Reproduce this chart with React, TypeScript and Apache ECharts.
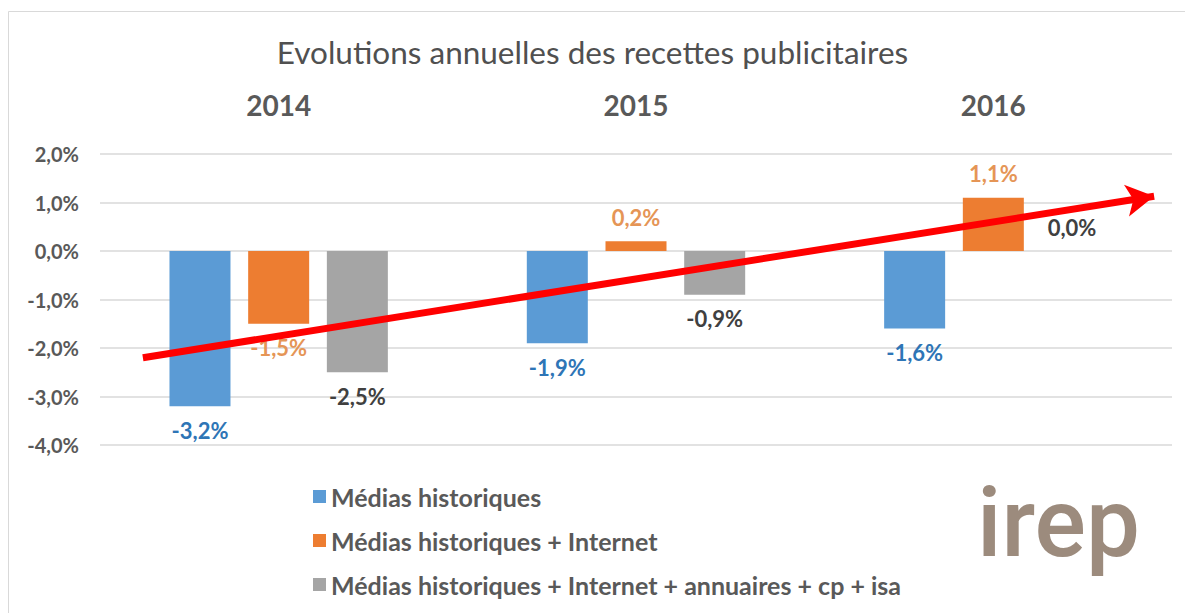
import React, { useEffect, useRef } from "react";
import * as echarts from "echarts";

const titleText = "Evolutions annuelles des recettes publicitaires";
const years = ["2014", "2015", "2016"];
const seriesNames = [
  "Médias historiques",
  "Médias historiques + Internet",
  "Médias historiques + Internet + annuaires + cp + isa",
];
const historiques = [-3.2, -1.9, -1.6];
const internet = [-1.5, 0.2, 1.1];
const complet = [-2.5, -0.9, 0.0];
const yTicks = { min: -4, max: 2, interval: 1 };
// trend arrow, in (group position 0..3, percent) units
const arrowStart = [0.12, -2.2];
const arrowEnd = [2.95, 1.13];

const barColors = ["#5B9BD5", "#ED7D31", "#A5A5A5"];
const labelColors = ["#2E75B6", "#E59556", "#404040"];
const FONT = "Lato, 'Liberation Sans', sans-serif";

const fmt = (v: number) => v.toFixed(1).replace(".", ",") + "%";

export default function App() {
  const ref = useRef<HTMLDivElement>(null);
  useEffect(() => {
    document.body.style.margin = "0";
    const chart = echarts.init(ref.current!, null, { renderer: "svg" });
    const all = [historiques, internet, complet];
    const barSeries = all.map((vals, i) => ({
      name: seriesNames[i],
      type: "bar",
      xAxisIndex: 0,
      barWidth: 61,
      barGap: "29%",
      itemStyle: { color: barColors[i] },
      data: vals.map((v) => ({
        value: v,
        label: { position: v < 0 ? "bottom" : "top" },
      })),
      label: {
        show: true,
        distance: 13,
        formatter: (p: any) => fmt(p.value),
        color: labelColors[i],
        fontFamily: FONT,
        fontWeight: "bold",
        fontSize: 22,
      },
    }));
    chart.setOption({
      animation: false,
      backgroundColor: "#ffffff",
      textStyle: { fontFamily: FONT },
      title: {
        text: titleText,
        left: "center",
        top: 31,
        textStyle: {
          fontFamily: FONT,
          fontSize: 31.5,
          fontWeight: "normal",
          color: "#505050",
        },
      },
      legend: {
        orient: "vertical",
        left: 308,
        top: 479,
        itemWidth: 13,
        itemHeight: 13,
        itemGap: 19,
        icon: "rect",
        data: seriesNames,
        textStyle: {
          fontFamily: FONT,
          fontSize: 25,
          fontWeight: "bold",
          color: "#595959",
        },
      },
      grid: { left: 100, right: 13, top: 154, bottom: 168 },
      xAxis: [
        {
          type: "category",
          position: "top",
          data: years,
          axisLine: { show: false },
          axisTick: { show: false },
          axisLabel: {
            margin: 35,
            fontFamily: FONT,
            fontSize: 28,
            fontWeight: "bold",
            color: "#595959",
          },
        },
        { type: "value", min: 0, max: 3, show: false },
      ],
      yAxis: {
        type: "value",
        min: yTicks.min,
        max: yTicks.max,
        interval: yTicks.interval,
        axisLine: { show: false },
        axisTick: { show: false },
        splitLine: { lineStyle: { color: "#D9D9D9", width: 1.5 } },
        axisLabel: {
          margin: 21,
          formatter: (v: number) => fmt(v),
          fontFamily: FONT,
          fontSize: 20,
          fontWeight: "bold",
          color: "#595959",
        },
      },
      series: [
        ...barSeries,
        {
          type: "line",
          xAxisIndex: 1,
          data: [],
          silent: true,
          markLine: {
            silent: true,
            animation: false,
            symbol: ["none", "arrow"],
            symbolSize: [24, 28],
            label: { show: false },
            lineStyle: { color: "#FF0000", width: 7, type: "solid" },
            data: [[{ coord: arrowStart }, { coord: arrowEnd }]],
          },
        },
      ],
      graphic: [
        {
          type: "rect",
          shape: { x: 8.5, y: 11.5, width: 1300, height: 800 },
          style: { fill: "none", stroke: "#D9D9D9", lineWidth: 1 },
          silent: true,
        },
        {
          type: "text",
          x: 977,
          y: 475,
          style: {
            text: "irep",
            fontFamily: "Roboto, sans-serif",
            fontWeight: 500,
            fontSize: 96,
            fill: "#9C8B7D",
          },
          silent: true,
        },
      ],
    });
    return () => chart.dispose();
  }, []);
  return <div ref={ref} style={{ width: 1185, height: 613 }} />;
}
